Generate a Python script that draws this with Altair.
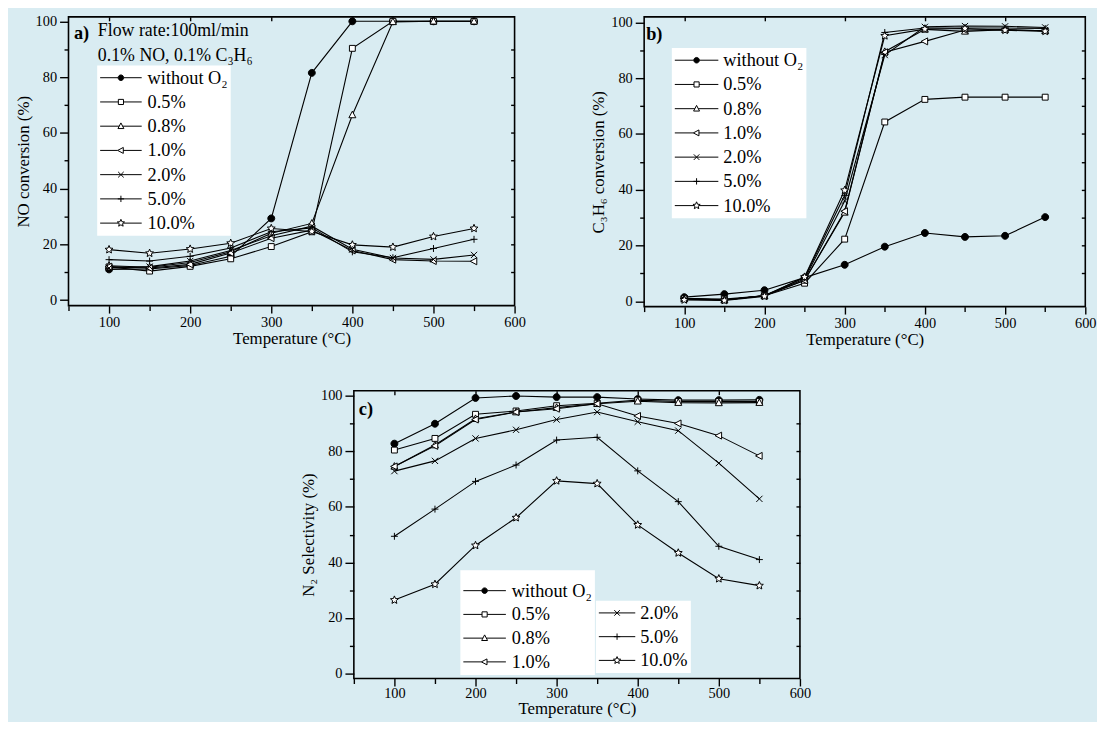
import math
import altair as alt
import pandas as pd

# ---------------- data ----------------
temperature = [100, 150, 200, 250, 300, 350, 400, 450, 500, 550]
series_names = ["without O₂", "0.5%", "0.8%", "1.0%", "2.0%", "5.0%", "10.0%"]

# a) NO conversion (%)
no_without = [11.0, 11.2, 12.4, 15.7, 29.3, 81.5, 100.0, 100.0, 100.0, 100.0]
no_05 = [11.9, 10.4, 12.1, 14.8, 19.2, 24.5, 90.3, 100.0, 100.0, 100.0]
no_08 = [12.3, 11.8, 13.5, 17.3, 24.0, 27.5, 66.4, 99.8, 100.0, 100.0]
no_10 = [12.0, 11.5, 12.8, 16.9, 22.2, 25.1, 17.8, 14.5, 14.0, 13.9]
no_20 = [11.5, 12.0, 14.0, 17.8, 23.1, 26.5, 18.2, 15.1, 14.6, 16.2]
no_50 = [14.5, 14.0, 15.7, 18.7, 24.5, 25.9, 17.3, 15.2, 18.5, 21.8]
no_100 = [18.1, 16.8, 18.3, 20.4, 25.7, 24.6, 19.8, 19.0, 22.8, 25.7]

# b) C3H6 conversion (%)
c3_without = [1.5, 2.6, 4.0, 8.5, 13.1, 19.6, 24.5, 23.1, 23.5, 30.2]
c3_05 = [1.0, 0.8, 2.0, 6.5, 22.3, 64.3, 72.4, 73.2, 73.2, 73.2]
c3_08 = [1.0, 0.5, 2.0, 7.5, 31.9, 89.5, 97.5, 96.8, 97.4, 97.0]
c3_10 = [1.0, 0.5, 2.0, 7.5, 32.3, 89.3, 93.2, 97.3, 97.4, 97.0]
c3_20 = [0.8, 0.5, 2.0, 8.0, 36.0, 88.3, 98.4, 98.7, 98.6, 98.2]
c3_50 = [1.0, 0.5, 2.1, 8.5, 38.0, 96.4, 98.0, 98.0, 98.0, 97.8]
c3_100 = [0.5, 0.3, 1.8, 8.7, 39.8, 95.2, 97.6, 97.8, 97.2, 96.8]

# c) N2 selectivity (%)
n2_without = [82.8, 90.0, 99.3, 100.0, 99.6, 99.6, 98.9, 98.5, 98.5, 98.6]
n2_05 = [80.5, 84.7, 93.4, 94.6, 96.5, 97.4, 98.5, 98.0, 98.0, 98.0]
n2_08 = [74.6, 82.3, 91.8, 94.2, 95.8, 97.2, 98.1, 97.6, 97.5, 97.6]
n2_10 = [74.6, 82.0, 91.5, 94.2, 95.4, 97.2, 92.8, 90.1, 85.7, 78.4]
n2_20 = [72.9, 76.6, 84.7, 87.8, 91.5, 94.2, 90.7, 87.5, 75.8, 62.9]
n2_50 = [49.4, 59.2, 69.2, 75.1, 84.1, 85.1, 73.0, 61.9, 45.8, 41.0]
n2_100 = [26.4, 32.1, 46.1, 56.1, 69.4, 68.4, 53.5, 43.4, 34.1, 31.6]

x_major = [100, 200, 300, 400, 500, 600]
x_minor = [50, 150, 250, 350, 450, 550]
y_major = [0, 20, 40, 60, 80, 100]
y_minor = [10, 30, 50, 70, 90]
y_mirror = [10, 20, 30, 40, 50, 60, 70, 80, 90]
x_mirror = [100, 200, 300, 400, 500]

marker_kinds = ["circle", "square", "up", "left", "cross", "plus", "star"]
marker_fills = ["black", "white", "white", "white", "white", "white", "white"]

FONT = "Liberation Serif"
BG = "#d9ecf2"


def long_df(cols):
    rows = []
    for name, vals in zip(series_names, cols):
        for t, v in zip(temperature, vals):
            rows.append({"T": t, "val": v, "series": name})
    return pd.DataFrame(rows)


# ---------------- marker glyph paths ----------------
def fmt(v):
    s = f"{v:.3f}".rstrip("0").rstrip(".")
    return "0" if s in ("", "-0") else s


def poly(pts):
    return "M" + "L".join(f"{fmt(x)},{fmt(y)}" for x, y in pts) + "Z"


def circle_path(r):
    return (f"M{fmt(r)},0A{fmt(r)},{fmt(r)} 0 1,1 {fmt(-r)},0"
            f"A{fmt(r)},{fmt(r)} 0 1,1 {fmt(r)},0Z")


def star_points(R, ratio=0.45):
    pts = []
    for k in range(10):
        rr = R if k % 2 == 0 else R * ratio
        a = math.radians(-90 + 36 * k)
        pts.append((rr * math.cos(a), rr * math.sin(a)))
    return pts


def glyph(kind, s):
    if kind == "circle":
        return circle_path(s), -s, s
    if kind == "square":
        return poly([(-s, -s), (s, -s), (s, s), (-s, s)]), -s, s
    if kind == "up":
        return poly([(0, -1.1 * s), (s, 0.8 * s), (-s, 0.8 * s)]), -0.58 * s, 0.58 * s
    if kind == "left":
        return poly([(-1.1 * s, 0), (0.8 * s, -s), (0.8 * s, s)]), -1.1 * s, 0.8 * s
    if kind == "cross":
        return (f"M{fmt(-s)},{fmt(-s)}L{fmt(s)},{fmt(s)}"
                f"M{fmt(-s)},{fmt(s)}L{fmt(s)},{fmt(-s)}"), 0, 0
    if kind == "plus":
        return f"M{fmt(-s)},0H{fmt(s)}M0,{fmt(-s)}V{fmt(s)}", 0, 0
    R = 1.2 * s
    return poly(star_points(R)), -0.59 * R, 0.59 * R


point_scale = {"circle": 1.0, "square": 0.85, "up": 1.0, "left": 1.0,
               "cross": 0.9, "plus": 1.0, "star": 1.0}
legend_scale = {"circle": 0.7, "square": 0.65, "up": 0.75, "left": 0.75,
                "cross": 0.7, "plus": 0.8, "star": 0.8}

point_paths = [glyph(k, point_scale[k])[0] for k in marker_kinds]


def legend_paths(half):
    out = []
    for k in marker_kinds:
        g, lo, hi = glyph(k, legend_scale[k])
        out.append(f"M{fmt(-half)},0H{fmt(lo)}M{fmt(hi)},0H{fmt(half)}" + g)
    return out


LEG_SIZE = 64  # 4 px per path unit
ENTRY = 18.5   # legend label font size -> entry size


def make_legend(x, y, half_px, gap, row_pad, title=None):
    sym_off = half_px - ENTRY / 2
    lab_off = 2 * half_px + gap - ENTRY - sym_off
    kw = dict(orient="none", legendX=x, legendY=y, fillColor="white", padding=3,
              labelFont=FONT, labelFontSize=ENTRY, labelColor="black",
              labelOffset=lab_off, symbolOffset=sym_off, symbolSize=LEG_SIZE,
              symbolStrokeWidth=1, rowPadding=row_pad, labelLimit=300)
    if title:
        kw.update(title=title, titleFontSize=7, titlePadding=1.5, titleFont=FONT)
    else:
        kw.update(title=None)
    return alt.Legend(**kw)


def panel(df, ytitle, ydom, w, h, legends, texts, xlab_pad=3, xtitle_pad=1):
    xs = alt.Scale(domain=[50, 600], nice=False, zero=False)
    ys = alt.Scale(domain=ydom, nice=False, zero=False)
    base = alt.Chart(df)

    lines = base.mark_line(color="black", strokeWidth=1.1).encode(
        x=alt.X("T:Q", scale=xs, axis=alt.Axis(
            orient="bottom", values=x_major, tickSize=7.5, labelPadding=xlab_pad,
            title="Temperature (°C)", titlePadding=xtitle_pad)),
        y=alt.Y("val:Q", scale=ys, axis=alt.Axis(
            orient="left", values=y_major, tickSize=9, labelPadding=3,
            title=ytitle, titlePadding=3)),
        detail="series:N",
    )

    pts = base.mark_point(filled=True, stroke="black", strokeWidth=1, size=49,
                          opacity=1).encode(
        x=alt.X("T:Q", scale=xs, axis=alt.Axis(
            orient="top", values=x_mirror, tickSize=4, offset=-4, labels=False,
            title=None)),
        y=alt.Y("val:Q", scale=ys, axis=alt.Axis(
            orient="right", values=y_mirror, tickSize=4, offset=-4, labels=False,
            title=None)),
        shape=alt.Shape("series:N", scale=alt.Scale(domain=series_names, range=point_paths),
                        legend=None),
        fill=alt.Fill("series:N", scale=alt.Scale(domain=series_names, range=marker_fills),
                      legend=None),
    )

    layers = [lines, pts]
    for i, (idx, lx, ly, half_px, gap, row_pad, title) in enumerate(legends):
        names = [series_names[j] for j in idx]
        paths_all = legend_paths(half_px / 4.0)
        paths = [paths_all[j] for j in idx]
        fills = [marker_fills[j] for j in idx]
        leg = make_legend(lx, ly, half_px, gap, row_pad, title)
        enc = dict(
            shape=alt.Shape("series:N", scale=alt.Scale(domain=names, range=paths), legend=leg),
            fill=alt.Fill("series:N", scale=alt.Scale(domain=names, range=fills), legend=leg),
            stroke=alt.Stroke("series:N", scale=alt.Scale(domain=names, range=["black"] * len(names)),
                              legend=leg),
        )
        if i == 0:
            enc["x"] = alt.X("T:Q", scale=xs, axis=alt.Axis(
                orient="bottom", values=x_minor, tickSize=5, labels=False, title=None))
            enc["y"] = alt.Y("val:Q", scale=ys, axis=alt.Axis(
                orient="left", values=y_minor, tickSize=4.5, labels=False, title=None))
        layer = base.transform_filter("false").mark_point(
            filled=True, strokeWidth=1, size=LEG_SIZE, opacity=1
        ).encode(**enc)
        layers.append(layer)

    for txt, tx, ty, size, weight in texts:
        layers.append(
            alt.Chart(pd.DataFrame({"label": [txt]})).mark_text(
                align="left", baseline="alphabetic", font=FONT, fontSize=size,
                fontWeight=weight, color="black"
            ).encode(text="label:N", x=alt.value(tx), y=alt.value(ty))
        )

    return (alt.layer(*layers)
            .resolve_scale(shape="independent", fill="independent", stroke="independent")
            .resolve_axis(x="independent", y="independent")
            .properties(width=w, height=h))


df_a = long_df([no_without, no_05, no_08, no_10, no_20, no_50, no_100])
df_b = long_df([c3_without, c3_05, c3_08, c3_10, c3_20, c3_50, c3_100])
df_c = long_df([n2_without, n2_05, n2_08, n2_10, n2_20, n2_50, n2_100])

pa = panel(df_a, "NO conversion (%)", [-2.0, 101.6], 451, 292,
           [(list(range(7)), 29, 49.3, 21, 6, 5.5, None)],
           [("a)", 5.5, 22, 18.5, "bold"),
            ("Flow rate:100ml/min", 29.7, 19.5, 18, "normal"),
            ("0.1% NO, 0.1% C₃H₆", 29.7, 44.3, 18, "normal")])

pb = panel(df_b, "C₃H₆  conversion (%)", [-1.9, 102.0], 446, 293,
           [(list(range(7)), 28, 31.6, 22, 5, 5.5, None)],
           [("b)", 2, 23.3, 18.5, "bold")])

pc = panel(df_c, "N₂ Selectivity (%)", [-1.9, 101.9], 451, 291,
           [([0, 1, 2, 3], 107.7, 181.4, 21.5, 6, 5, " "),
            ([4, 5, 6], 244.7, 212.4, 18.4, 5, 5, None)],
           [("c)", 5, 24.7, 18.5, "bold")],
           xlab_pad=0.5, xtitle_pad=1)

top = alt.hconcat(pa, pb, spacing=63)

chart = (alt.vconcat(top, pc, spacing=39, center=True)
         .properties(background=BG, padding={"left": 5, "top": 0, "right": 0, "bottom": 0})
         .configure_axis(labelFont=FONT, labelFontSize=14.5, labelColor="black",
                         titleFont=FONT, titleFontSize=17, titleFontWeight="normal",
                         titleColor="black", tickColor="black", tickWidth=1.4,
                         domain=False, grid=False, labelFlush=False, labelOverlap=False,
                         minExtent=0)
         .configure_view(stroke="black", strokeWidth=1.6))

chart.save("out.html", embed_options={"renderer": "svg", "actions": False})
